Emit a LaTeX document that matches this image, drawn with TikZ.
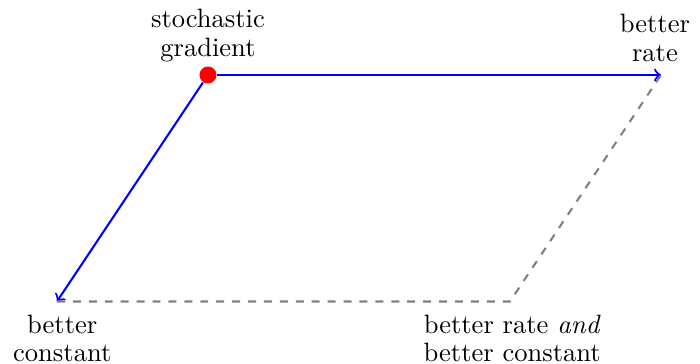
\documentclass[tikz,border=0pt]{standalone}
\usepackage{tikz}
\usetikzlibrary{positioning}

\begin{document}
\begin{tikzpicture}[
  dot/.style={circle, fill=red, inner sep=0pt, minimum size=0.225cm},
  arr/.style={->, blue, thick},
  dash line/.style={gray, dashed, thick},
  lbl/.style={align=center}
]
\useasboundingbox (-2.755,-3.828) rectangle (6.517,0.993);
\node[dot] at (0,0) (sg) {};
\coordinate (rate) at (6,0);
\coordinate (const) at (-2,-3);
\coordinate (both) at (4,-3);

\draw[arr] (sg) -- (rate);
\draw[arr] (sg) -- (const);
\draw[dash line] (const) -- (both) -- (rate);

\node[lbl, anchor=south] at (0,0.05) (sglbl) {stochastic\\[-1pt]gradient};
\node[lbl, anchor=south] at (5.92,0.05) (ratelbl) {better\\[-1pt]rate};
\node[lbl, anchor=north] at (-1.93,-3.06) (constlbl) {better\\[-1.5pt]constant};
\node[lbl, anchor=north] at (4.03,-3.06) (bothlbl) {better rate \emph{and}\\[-1.5pt]better constant};
\end{tikzpicture}
\end{document}
